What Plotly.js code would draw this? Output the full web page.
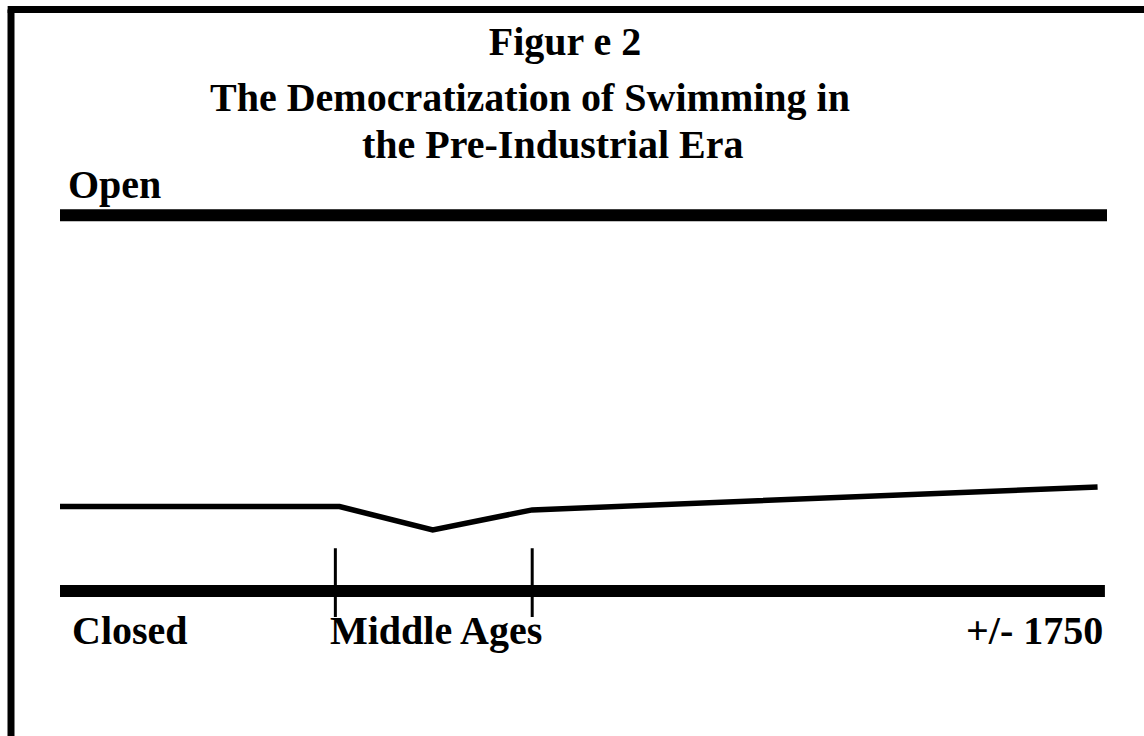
<!DOCTYPE html>
<html>
<head>
<meta charset="utf-8">
<script src="https://cdn.plot.ly/plotly-3.0.1.min.js"></script>
<style>html,body{margin:0;padding:0;background:#fff;}#chart{width:1144px;height:736px;}</style>
</head>
<body>
<div id="chart"></div>
<script>
// ---- data ----
const titleLines = ["Figur e 2", "The Democratization of Swimming in", "the Pre-Industrial Era"];
const scaleLabels = ["Open", "Closed"];          // top / bottom of the openness scale
const scaleLevels = [100, 0];
const timePoints = [0, 26.7, 35.6, 45.1, 99.1];   // position along the time axis
const openness = [22.5, 22.5, 16.3, 21.6, 27.7];  // degree of openness
const periodMarks = [26.3, 45.1];                 // start / end of the Middle Ages
const timeLabels = ["Closed", "Middle Ages", "+/- 1750"];

const FONT = "Liberation Serif, Times New Roman, serif";
const tf = (size) => ({family: FONT, size: size, color: "#000", weight: "bold"});

const shapes = [];
// frame (left and top edges)
shapes.push({type: "line", xref: "paper", yref: "paper", x0: -0.0468, x1: -0.0468, y0: 1.284, y1: -0.11, line: {color: "#000", width: 7}});
shapes.push({type: "line", xref: "paper", yref: "paper", x0: -0.05, x1: 1.05, y0: 1.2842, y1: 1.2842, line: {color: "#000", width: 7}});
// Open / Closed bars
scaleLevels.forEach(v => shapes.push({type: "line", xref: "x", yref: "y", x0: 0, x1: v === 100 ? 100 : 99.8, y0: v, y1: v, line: {color: "#000", width: 12}}));
// Middle Ages markers
periodMarks.forEach(x => shapes.push({type: "line", xref: "x", yref: "y", x0: x, x1: x, y0: 11.4, y1: -6.9, line: {color: "#000", width: 3}}));

const annotations = [
  {text: titleLines[1], xref: "paper", yref: "paper", x: 0.1414, y: 1.116, xanchor: "left", yanchor: "middle", showarrow: false, font: tf(40)},
  {text: titleLines[2], xref: "paper", yref: "paper", x: 0.2865, y: 1.027, xanchor: "left", yanchor: "middle", showarrow: false, font: tf(40)},
  {text: scaleLabels[0], xref: "x", yref: "y", x: 0.6, y: 108.1, xanchor: "left", yanchor: "middle", showarrow: false, font: tf(40)},
  {text: timeLabels[0], xref: "x", yref: "y", x: 1.0, y: -10.4, xanchor: "left", yanchor: "middle", showarrow: false, font: tf(40)},
  {text: timeLabels[1], xref: "x", yref: "y", x: 25.6, y: -10.4, xanchor: "left", yanchor: "middle", showarrow: false, font: tf(40)},
  {text: timeLabels[2], xref: "x", yref: "y", x: 99.8, y: -10.4, xanchor: "right", yanchor: "middle", showarrow: false, font: tf(40)}
];

const trace = {
  x: timePoints, y: openness, type: "scatter", mode: "lines",
  line: {color: "#000", width: 5.5}, hoverinfo: "skip", cliponaxis: false
};

const layout = {
  width: 1144, height: 736,
  margin: {l: 60, r: 37, t: 159, b: 51, pad: 0},
  paper_bgcolor: "#fff", plot_bgcolor: "#fff",
  showlegend: false,
  title: {text: titleLines[0], font: tf(40), x: 565/1144, xanchor: "center", xref: "container", y: 1 - 41/736, yref: "container", yanchor: "middle"},
  xaxis: {range: [0, 100], visible: false, fixedrange: true},
  yaxis: {range: [-25, 115], visible: false, fixedrange: true},
  shapes: shapes,
  annotations: annotations
};

Plotly.newPlot("chart", [trace], layout, {staticPlot: true, displayModeBar: false});
</script>
</body>
</html>
